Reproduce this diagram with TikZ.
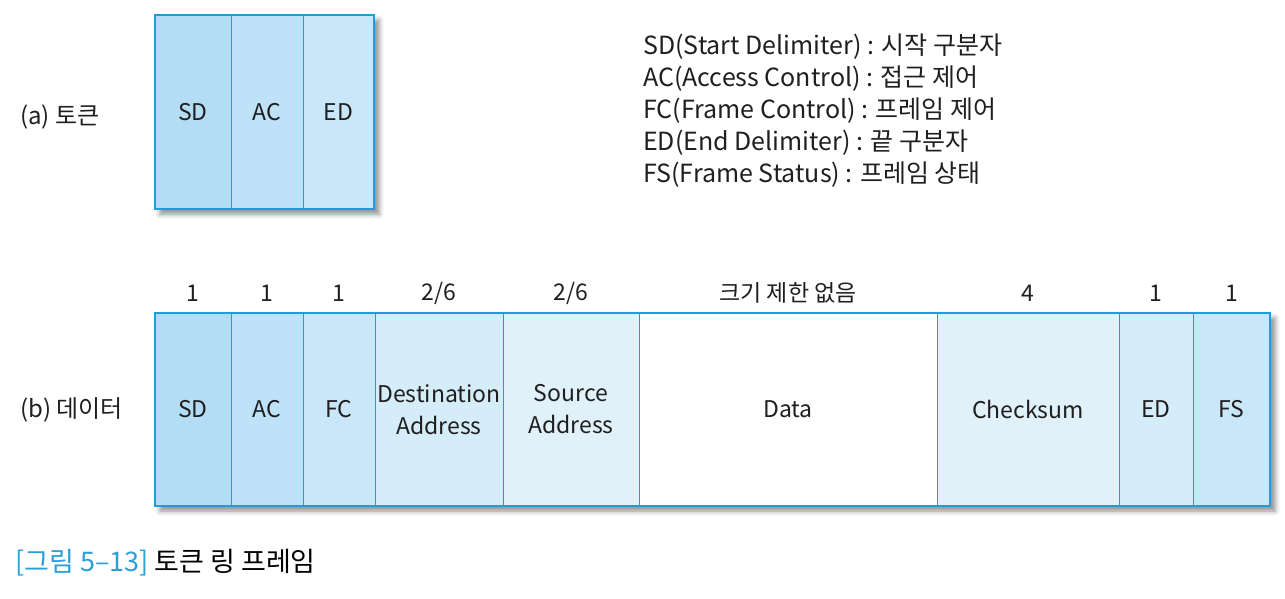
\documentclass[tikz,border=0pt]{standalone}
\usepackage{fontspec}
\setmainfont{Noto Sans CJK KR}
\usetikzlibrary{shadows.blur}
\definecolor{bl}{HTML}{1E9DD8}
\definecolor{cA}{HTML}{B3DCF5}
\definecolor{cB}{HTML}{BEE2F7}
\definecolor{cC}{HTML}{C9E7F8}
\definecolor{cD}{HTML}{D5ECF9}
\definecolor{cE}{HTML}{E0F1FA}
\definecolor{cW}{HTML}{FFFFFF}
\definecolor{capblue}{HTML}{2A9FD9}
\tikzset{
  lbl/.style={font=\fontsize{23}{26}\selectfont, text=black!88},
  side/.style={font=\fontsize{24}{26}\selectfont, text=black!88, anchor=west, inner sep=0pt},
  cell/.style={draw=bl, line width=1pt, inner sep=0pt, outer sep=0pt, anchor=north west,
    align=center, font=\fontsize{23}{32}\selectfont, text=black!88},
  frame/.style={draw=bl, line width=2.4pt, inner sep=0pt, outer sep=0pt, anchor=north west,
    fill=white, blur shadow={shadow xshift=5pt, shadow yshift=-5pt, shadow blur radius=5pt, shadow opacity=45}},
  border/.style={draw=bl, line width=2.4pt},
  legend/.style={anchor=west, inner sep=0pt, font=\fontsize{25}{28}\selectfont, text=black!88},
}
\begin{document}
\begin{tikzpicture}[x=1pt,y=-1pt]
\useasboundingbox (0,0) rectangle (1285,598);
% (a) token
\node[frame, minimum width=219pt, minimum height=194pt] (tok) at (155,15) {};
\foreach \n/\a/\b/\c/\t in {tsd/155/231/cA/SD, tac/231/303/cB/AC, ted/303/374/cC/ED}
  \node[cell, fill=\c, minimum width={(\b-\a)*1pt}, minimum height=194pt] (\n) at (\a,15) {\t};
\draw[border] (tok.north west) rectangle (tok.south east);
\node[side] (la) at (20,117) {(a) 토큰};
% legend
\node[legend] (l1) at (643,47) {SD(Start Delimiter) : 시작 구분자};
\node[legend] (l2) at (643,79) {AC(Access Control) : 접근 제어};
\node[legend] (l3) at (643,111) {FC(Frame Control) : 프레임 제어};
\node[legend] (l4) at (643,143) {ED(End Delimiter) : 끝 구분자};
\node[legend] (l5) at (643,175) {FS(Frame Status) : 프레임 상태};
% (b) data
\node[frame, minimum width=1115pt, minimum height=193pt] (dat) at (155,313) {};
\foreach \n/\a/\b/\c/\t/\s in {
  dsd/155/231/cA/SD/1, dac/231/303/cB/AC/1, dfc/303/375/cC/FC/1,
  dda/375/503/cD/{Destination\\Address}/2\slash 6, dsa/503/639/cE/{Source\\Address}/2\slash 6,
  ddt/639/937/cW/Data/크기 제한 없음, dck/937/1119/cE/Checksum/4,
  ded/1119/1193/cD/ED/1, dfs/1193/1270/cC/FS/1}{
  \node[cell, fill=\c, minimum width={(\b-\a)*1pt}, minimum height=193pt] (\n) at (\a,313) {\t};
  \node[lbl] (\n-n) at ({(\a+\b)/2},293) {\s};
}
\draw[border] (dat.north west) rectangle (dat.south east);
\node[side] (lb) at (20,410) {(b) 데이터};
% caption
\node[anchor=west, inner sep=0pt, font=\fontsize{27}{30}\selectfont] (cap) at (15,563)
  {\textcolor{capblue}{[그림 5–13]} 토큰 링 프레임};
\end{tikzpicture}
\end{document}
